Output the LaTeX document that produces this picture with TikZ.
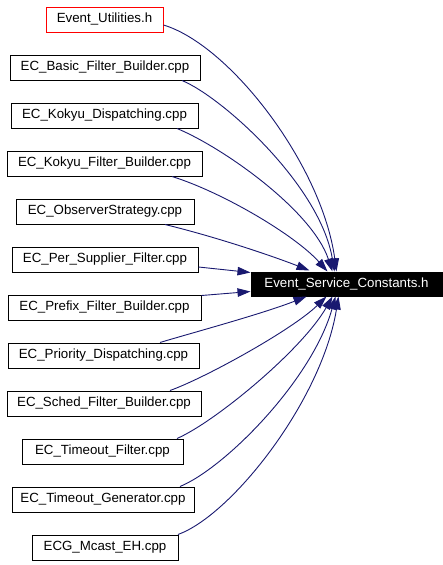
\documentclass[tikz,border=0pt]{standalone}
\usepackage{fontspec}
\setmainfont{Liberation Sans}
\usetikzlibrary{arrows.meta,calc}
\definecolor{edgeblue}{HTML}{191970}
\begin{document}
\begin{tikzpicture}[x=1pt,y=-1pt,
  filebox/.style={draw=black,line width=1pt,fill=white,minimum height=25pt,inner sep=0pt,font=\fontsize{13.3}{16}\selectfont},
  dep/.style={draw=edgeblue,line width=0.9pt,-{Triangle[length=13pt,width=8.5pt]},fill=none}]
\useasboundingbox (0,0) rectangle (443,565);
\node[filebox,draw=red,minimum width=117pt] (n1) at (104.5,19.5) {Event\_Utilities.h};
\node[filebox,minimum width=190pt] (n2) at (105,67.5) {EC\_Basic\_Filter\_Builder.cpp};
\node[filebox,minimum width=187pt] (n3) at (104.5,115.5) {EC\_Kokyu\_Dispatching.cpp};
\node[filebox,minimum width=195pt] (n4) at (104.5,163.5) {EC\_Kokyu\_Filter\_Builder.cpp};
\node[filebox,minimum width=178pt] (n5) at (105,211.5) {EC\_ObserverStrategy.cpp};
\node[filebox,minimum width=186pt] (n6) at (105,259.5) {EC\_Per\_Supplier\_Filter.cpp};
\node[filebox,minimum width=193pt] (n7) at (104.5,307.5) {EC\_Prefix\_Filter\_Builder.cpp};
\node[filebox,minimum width=191pt] (n8) at (103.5,355.5) {EC\_Priority\_Dispatching.cpp};
\node[filebox,minimum width=194pt] (n9) at (104,403.5) {EC\_Sched\_Filter\_Builder.cpp};
\node[filebox,minimum width=161pt] (n10) at (102.5,451.5) {EC\_Timeout\_Filter.cpp};
\node[filebox,minimum width=182pt] (n11) at (103,499.5) {EC\_Timeout\_Generator.cpp};
\node[filebox,minimum width=146pt] (n12) at (105,547.5) {ECG\_Mcast\_EH.cpp};
\node[filebox,fill=black,text=white,minimum width=191pt,minimum height=24pt] (t) at (346.5,284) {Event\_Service\_Constants.h};
% end points on the target
\coordinate (a1) at ($(t.north west)+(86,0)$);
\coordinate (a2) at ($(t.north west)+(84,0)$);
\coordinate (a3) at ($(t.north west)+(82,0)$);
\coordinate (a4) at ($(t.north west)+(77,0)$);
\coordinate (a5) at ($(t.north west)+(59,-1)$);
\coordinate (a6) at ($(t.north west)+(0,1)$);
\coordinate (a7) at ($(t.south west)+(0,-5)$);
\coordinate (a8) at ($(t.south west)+(56,0)$);
\coordinate (a9) at ($(t.south west)+(76,0)$);
\coordinate (a10) at ($(t.south west)+(82,0)$);
\coordinate (a11) at ($(t.south west)+(85,0)$);
\coordinate (a12) at ($(t.south west)+(88,0)$);
% start points on the sources
\coordinate (s1) at ($(n1.east)+(0,5.5)$);
\coordinate (s2) at ($(n2.south)+(77,0)$);
\coordinate (s3) at ($(n3.south)+(72.5,0)$);
\coordinate (s4) at ($(n4.south)+(67.5,0)$);
\coordinate (s5) at ($(n5.south)+(60,0)$);
\coordinate (s6) at ($(n6.east)+(0,7.5)$);
\coordinate (s7) at ($(n7.east)+(0,-12)$);
\coordinate (s8) at ($(n8.north)+(56.5,0)$);
\coordinate (s9) at ($(n9.north)+(66,0)$);
\coordinate (s10) at ($(n10.north)+(74.5,0)$);
\coordinate (s11) at ($(n11.north)+(77,0)$);
\coordinate (s12) at ($(n12.north)+(73,0)$);
\draw[dep] (s1) .. controls (230,45) and (322,165) .. (a1);
\draw[dep] (s2) .. controls (222,97) and (320,185) .. (a2);
\draw[dep] (s3) .. controls (222,147) and (312,210) .. (a3);
\draw[dep] (s4) .. controls (222,192) and (295,235) .. (a4);
\draw[dep] (s5) .. controls (220,238) and (275,257) .. (a5);
\draw[dep] (s6) -- (a6);
\draw[dep] (s7) -- (a7);
\draw[dep] (s8) .. controls (188,334) and (262,314) .. (a8);
\draw[dep] (s9) .. controls (205,378) and (292,330) .. (a9);
\draw[dep] (s10) .. controls (215,422) and (302,350) .. (a10);
\draw[dep] (s11) .. controls (225,468) and (312,380) .. (a11);
\draw[dep] (s12) .. controls (232,515) and (322,400) .. (a12);
\end{tikzpicture}
\end{document}
